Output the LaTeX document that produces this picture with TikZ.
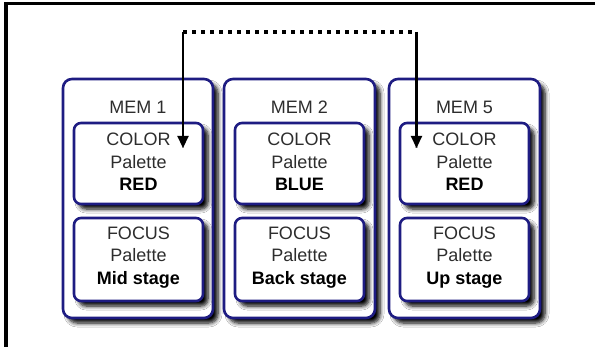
\documentclass[tikz,border=0pt]{standalone}
\usepackage{fontspec}
\setmainfont{Liberation Sans}
\usetikzlibrary{shadows.blur,arrows.meta}
\definecolor{navy}{RGB}{30,28,130}
\definecolor{txt}{RGB}{45,45,45}
\tikzset{
  outerbox/.style={draw=navy, line width=2.6pt, rounded corners=9pt, fill=white,
    blur shadow={shadow xshift=5pt, shadow yshift=-5pt, shadow blur steps=6, shadow opacity=100, shadow blur radius=4pt}},
  innerbox/.style={draw=navy, line width=2.6pt, rounded corners=7pt, fill=white,
    blur shadow={shadow xshift=5pt, shadow yshift=-5pt, shadow blur steps=6, shadow opacity=100, shadow blur radius=4pt}},
  lbl/.style={font=\fontsize{18}{22.5}\selectfont, text=txt, align=center},
  arr/.style={line width=2.2pt, -{Triangle[length=12pt,width=11pt]}},
  dots/.style={line width=3.5pt, dash pattern=on 4pt off 5pt},
}
\begin{document}
\begin{tikzpicture}[x=1pt,y=-1pt]
\useasboundingbox (0,0) rectangle (595,347);
\fill[white] (0,0) rectangle (595,347);
% frame
\draw[line width=3pt] (4,3.5) -- (595,3.5);
\draw[line width=4.5pt] (6,2) -- (6,347);
% outer boxes
\node[outerbox, minimum width=150pt, minimum height=239pt, inner sep=0pt] (m1) at (138,198.5) {};
\node[outerbox, minimum width=151pt, minimum height=239pt, inner sep=0pt] (m2) at (299.5,198.5) {};
\node[outerbox, minimum width=151pt, minimum height=239pt, inner sep=0pt] (m5) at (464.5,198.5) {};
% inner boxes
\node[innerbox, minimum width=129pt, minimum height=81pt, inner sep=0pt] (c1) at (138.5,163.5) {};
\node[innerbox, minimum width=129pt, minimum height=83pt, inner sep=0pt] (f1) at (138.5,259.5) {};
\node[innerbox, minimum width=129pt, minimum height=81pt, inner sep=0pt] (c2) at (299.5,163.5) {};
\node[innerbox, minimum width=129pt, minimum height=83pt, inner sep=0pt] (f2) at (299.5,259.5) {};
\node[innerbox, minimum width=129pt, minimum height=81pt, inner sep=0pt] (c5) at (464.5,163.5) {};
\node[innerbox, minimum width=129pt, minimum height=83pt, inner sep=0pt] (f5) at (464.5,259.5) {};
% labels
\node[lbl] (t1) at (138,107) {MEM 1};
\node[lbl] (t2) at (299.5,107) {MEM 2};
\node[lbl] (t5) at (464.5,107) {MEM 5};
\node[lbl] (tc1) at (138.5,162) {COLOR\\Palette\\\textbf{\color{black}RED}};
\node[lbl] (tc2) at (299.5,162) {COLOR\\Palette\\\textbf{\color{black}BLUE}};
\node[lbl] (tc5) at (464.5,162) {COLOR\\Palette\\\textbf{\color{black}RED}};
\node[lbl] (tf1) at (138.5,257.5) {FOCUS\\Palette\\\textbf{\color{black}Mid stage}};
\node[lbl] (tf2) at (299.5,257.5) {FOCUS\\Palette\\\textbf{\color{black}Back stage}};
\node[lbl] (tf5) at (464.5,257.5) {FOCUS\\Palette\\\textbf{\color{black}Up stage}};
% connector
\coordinate (a) at (183,32);
\coordinate (b) at (416.5,32);
\coordinate (ta) at (183,148);
\coordinate (tb) at (416.5,148);
% shadows of connector
\begin{scope}[black!30, shift={(3,3)}]
\draw[dots,black!30] (a) -- (b);
\draw[line width=2.2pt] (a) -- (ta);
\draw[line width=2.2pt] (b) -- (tb);
\end{scope}
\draw[dots] (a) -- (b);
\draw[arr] (a) -- (ta);
\draw[arr] (b) -- (tb);
\end{tikzpicture}
\end{document}
